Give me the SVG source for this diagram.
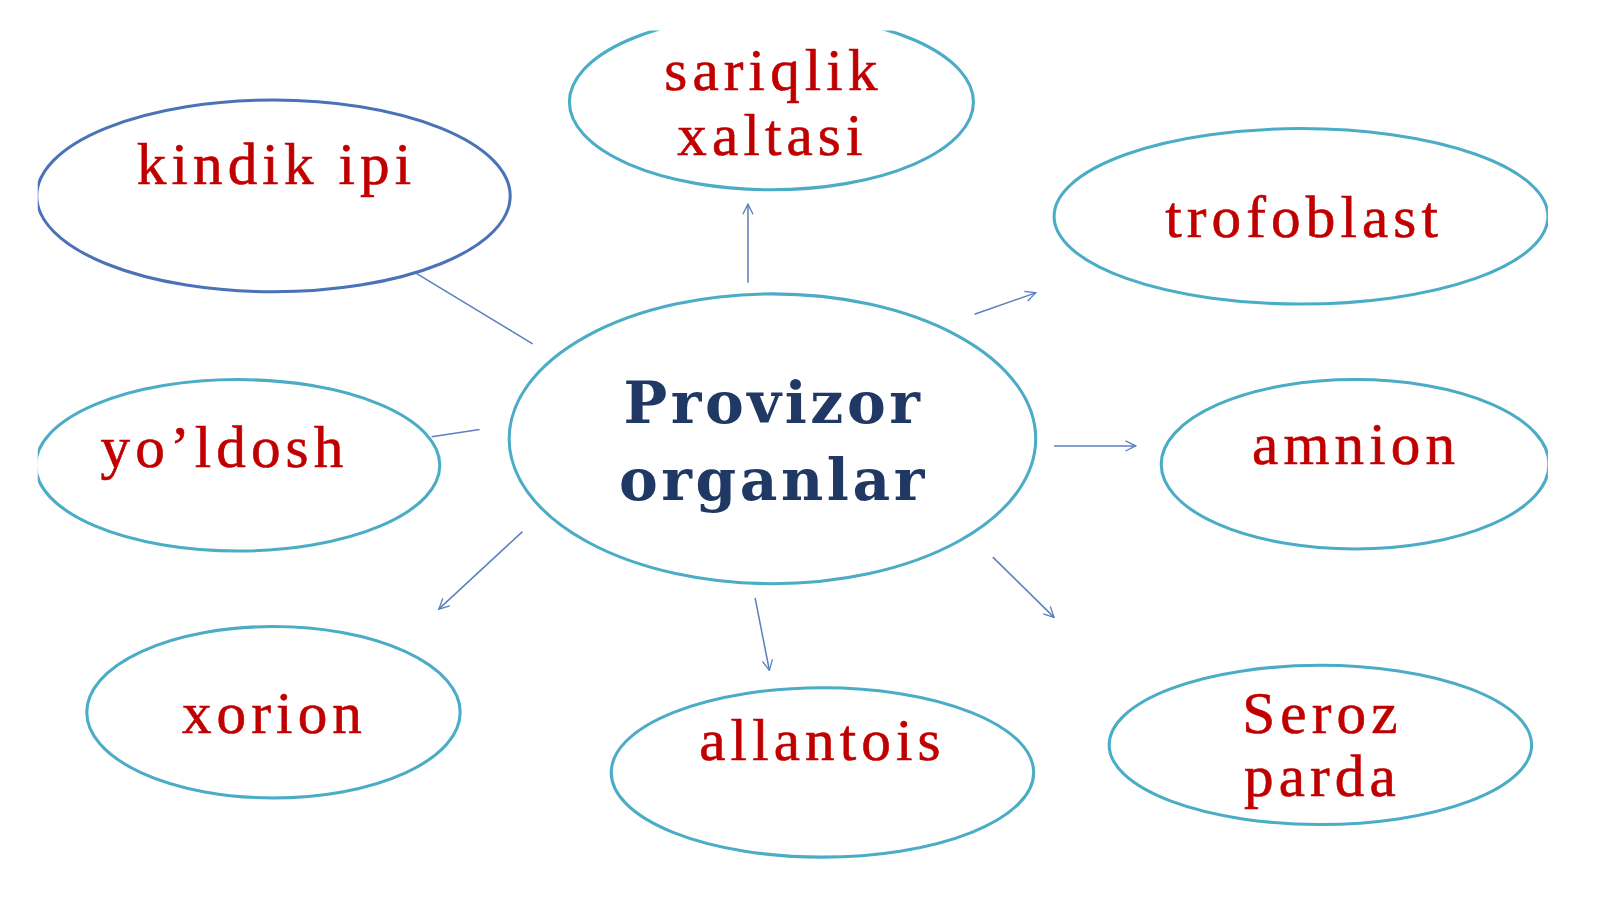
<svg xmlns="http://www.w3.org/2000/svg" width="1600" height="900" viewBox="0 0 1600 900">
<defs>
<clipPath id="frame"><rect x="37" y="30" width="1480" height="860"/></clipPath>
<marker id="arr" viewBox="0 0 12 12" refX="11" refY="6" markerWidth="12" markerHeight="12" markerUnits="userSpaceOnUse" orient="auto">
<path d="M1,1 L11,6 L1,11" fill="none" stroke="#5b7fc0" stroke-width="1.3"/>
</marker>
<style>
.node ellipse{fill:#ffffff;stroke:#4bacc6;stroke-width:3}
.node.dark ellipse{stroke:#4a72b8}
.lbl{font-family:"Liberation Serif","Times New Roman",serif;font-size:58px;fill:#c00000;stroke:#c00000;stroke-width:0.6;text-anchor:middle;letter-spacing:5px}
.ctr{font-family:"DejaVu Serif","Liberation Serif",serif;font-size:57px;font-weight:bold;fill:#1f3864;text-anchor:middle;letter-spacing:3.5px}
.conn line{stroke:#5b7fc0;stroke-width:1.5;fill:none}
</style>
</defs>
<rect width="1600" height="900" fill="#ffffff"/>
<g transform="scale(1.0204)">
<g clip-path="url(#frame)">
<g id="connectors" class="conn">
<line x1="408" y1="268" x2="522" y2="337" stroke="#7f8fa8"/>
<line x1="733" y1="277" x2="733" y2="200" marker-end="url(#arr)"/>
<line x1="955" y1="308" x2="1015" y2="287" marker-end="url(#arr)"/>
<line x1="1033" y1="437" x2="1113" y2="437" marker-end="url(#arr)"/>
<line x1="470" y1="421" x2="423" y2="428"/>
<line x1="512" y1="521" x2="430" y2="597" marker-end="url(#arr)"/>
<line x1="740" y1="586" x2="754" y2="657" marker-end="url(#arr)"/>
<line x1="973" y1="546" x2="1033" y2="605" marker-end="url(#arr)"/>
</g>
<g id="kindik-ipi" class="node dark">
<ellipse cx="268" cy="192" rx="232" ry="94"/>
<text class="lbl" x="271" y="180">kindik ipi</text>
</g>
<g id="sariqlik-xaltasi" class="node">
<ellipse cx="756" cy="100" rx="198" ry="86"/>
<text class="lbl" x="758" y="88">sariqlik</text>
<text class="lbl" x="757" y="152">xaltasi</text>
</g>
<g id="trofoblast" class="node">
<ellipse cx="1275" cy="212" rx="242" ry="86"/>
<text class="lbl" x="1278" y="232">trofoblast</text>
</g>
<g id="provizor-organlar" class="node">
<ellipse cx="757" cy="430" rx="258" ry="142"/>
<text class="ctr" x="758" y="415">Provizor</text>
<text class="ctr" x="758" y="490">organlar</text>
</g>
<g id="yoldosh" class="node">
<ellipse cx="233" cy="456" rx="198" ry="84"/>
<text class="lbl" x="220" y="458">yo’ldosh</text>
</g>
<g id="amnion" class="node">
<ellipse cx="1328" cy="455" rx="190" ry="83"/>
<text class="lbl" x="1329" y="455">amnion</text>
</g>
<g id="xorion" class="node">
<ellipse cx="268" cy="698" rx="183" ry="84"/>
<text class="lbl" x="269" y="718">xorion</text>
</g>
<g id="allantois" class="node">
<ellipse cx="806" cy="757" rx="207" ry="83"/>
<text class="lbl" x="806" y="745">allantois</text>
</g>
<g id="seroz-parda" class="node">
<ellipse cx="1294" cy="730" rx="207" ry="78"/>
<text class="lbl" x="1296" y="718">Seroz</text>
<text class="lbl" x="1296" y="780">parda</text>
</g>
</g>
</g>
</svg>
